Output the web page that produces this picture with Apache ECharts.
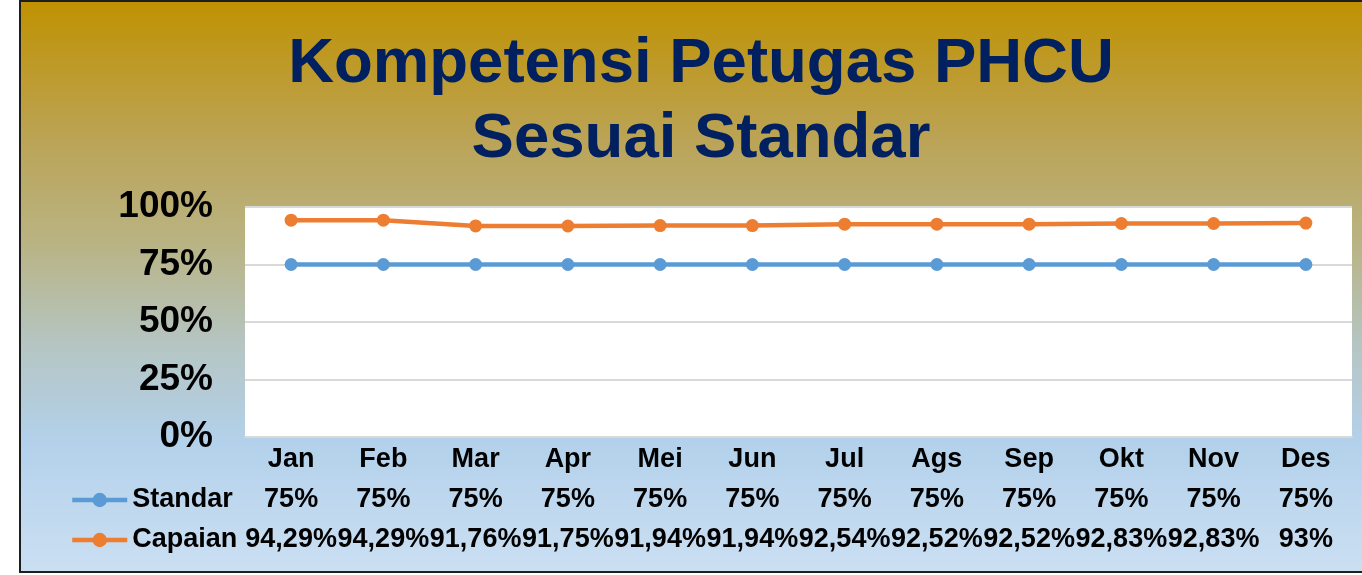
<!DOCTYPE html>
<html><head><meta charset="utf-8">
<script src="https://cdn.jsdelivr.net/npm/echarts@6/dist/echarts.min.js"></script>
<style>html,body{margin:0;padding:0;background:#fff}#c{width:1362px;height:575px}</style>
</head><body><div id="c"></div>
<script>
const categories = ['Jan','Feb','Mar','Apr','Mei','Jun','Jul','Ags','Sep','Okt','Nov','Des'];
const standar = [75,75,75,75,75,75,75,75,75,75,75,75];
const capaian = [94.29,94.29,91.76,91.75,91.94,91.94,92.54,92.52,92.52,92.83,92.83,93];
const yTicks = [0,25,50,75,100];

function fmt(v){ return (Number.isInteger(v) ? String(v) : v.toFixed(2).replace('.', ',')) + '%'; }

const FONT = '"Liberation Sans", Arial, sans-serif';
const chart = echarts.init(document.getElementById('c'));
chart.setOption({
  animation: false,
  graphic: [{
    type: 'rect', z: -10, silent: true,
    shape: {x: 20, y: 1, width: 1360, height: 571},
    style: {
      fill: new echarts.graphic.LinearGradient(0,0,0,1,[
        {offset:0, color:'#C09100'},
        {offset:0.25, color:'#BBA458'},
        {offset:0.42, color:'#B9B382'},
        {offset:0.6, color:'#B5C5C2'},
        {offset:0.77, color:'#B3D1EB'},
        {offset:1, color:'#CBDFF2'}
      ]),
      stroke: '#1e1e1e', lineWidth: 2
    }
  }],
  title: {
    text: 'Kompetensi Petugas PHCU\nSesuai Standar',
    left: 696, textAlign: 'center', top: 22,
    textStyle: {fontFamily: FONT, fontWeight: 'bold', fontSize: 63.5, lineHeight: 75, color: '#002060'}
  },
  legend: {
    orient: 'vertical', left: 65, top: 480, itemGap: 10,
    itemWidth: 55, itemHeight: 18,
    lineStyle: {width: 4.5},
    textStyle: {fontFamily: FONT, fontWeight: 'bold', fontSize: 27, lineHeight: 30, color: '#000'},
    data: ['Standar','Capaian']
  },
  grid: {left: 245, right: 10, top: 207, bottom: 138, show: true, backgroundColor: '#fff', borderWidth: 0, containLabel: false},
  xAxis: {
    type: 'category', data: categories, boundaryGap: true,
    axisLine: {lineStyle: {color: '#D9D9D9', width: 2}},
    axisTick: {show: false},
    axisLabel: {
      interval: 0, margin: 3,
      formatter: function(v, i){ return '{c|' + v + '}\n{s|' + fmt(standar[i]) + '}\n{p|' + fmt(capaian[i]) + '}'; },
      rich: {
        c: {fontFamily: FONT, fontWeight: 'bold', fontSize: 27, color: '#000', lineHeight: 40},
        s: {fontFamily: FONT, fontWeight: 'bold', fontSize: 27, color: '#000', lineHeight: 40},
        p: {fontFamily: FONT, fontWeight: 'bold', fontSize: 27, color: '#000', lineHeight: 40}
      }
    }
  },
  yAxis: {
    type: 'value', min: yTicks[0], max: yTicks[yTicks.length-1], interval: 25,
    axisLine: {show: false}, axisTick: {show: false},
    splitLine: {lineStyle: {color: '#D9D9D9', width: 2}},
    axisLabel: {margin: 32, fontFamily: FONT, fontWeight: 'bold', fontSize: 37, color: '#000', formatter: '{value}%'}
  },
  series: [
    {name: 'Standar', type: 'line', data: standar, symbol: 'circle', symbolSize: 13,
     lineStyle: {color: '#5B9BD5', width: 4.5}, itemStyle: {color: '#5B9BD5'}},
    {name: 'Capaian', type: 'line', data: capaian, symbol: 'circle', symbolSize: 13,
     lineStyle: {color: '#ED7D31', width: 4.5}, itemStyle: {color: '#ED7D31'}}
  ]
});
</script></body></html>
